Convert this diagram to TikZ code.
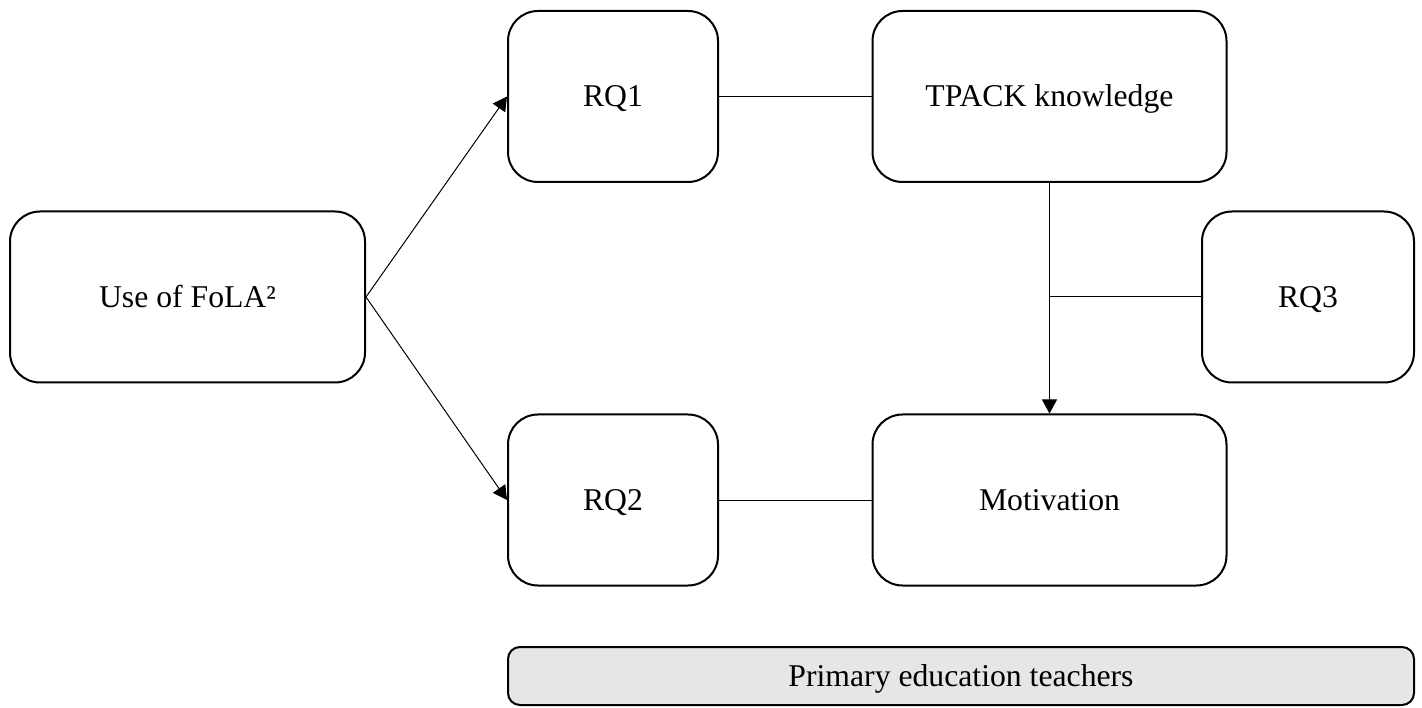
\documentclass[tikz,border=0pt]{standalone}
\usepackage{fontspec}
\setmainfont{Liberation Serif}
\usetikzlibrary{arrows.meta}
\definecolor{boxgray}{HTML}{E6E6E6}
\tikzset{
  rbox/.style={draw=black, line width=2pt, rounded corners=30pt, minimum width=#1, align=center, font=\fontsize{31.7}{37}\selectfont, inner sep=0pt, text height=21pt, text depth=0pt},
  conn/.style={line width=1pt},
  arr/.style={line width=1pt, -{Triangle[length=14pt,width=15pt]}}
}
\begin{document}
\begin{tikzpicture}[x=1pt,y=-1pt]
\useasboundingbox (0,0) rectangle (1422,708);
\node[rbox=355pt, minimum height=171pt] (use) at (187.5,297) {Use of FoLA²};
\node[rbox=210pt, minimum height=171pt] (rq1) at (613,96.5) {RQ1};
\node[rbox=354pt, minimum height=171pt] (tpack) at (1049.5,96.5) {TPACK knowledge};
\node[rbox=212pt, minimum height=171pt] (rq3) at (1308,297) {RQ3};
\node[rbox=210pt, minimum height=171pt] (rq2) at (613,500) {RQ2};
\node[rbox=354pt, minimum height=171pt] (mot) at (1049.5,500) {Motivation};
\node[rbox=906pt, minimum height=58pt, rounded corners=12pt, fill=boxgray] (pet) at (961,676) {Primary education teachers};
\draw[arr] (use.east) -- (rq1.west);
\draw[arr] (use.east) -- (rq2.west);
\draw[conn] (rq1.east) -- (tpack.west);
\draw[conn] (rq2.east) -- (mot.west);
\draw[arr] (tpack.south) -- (mot.north);
\coordinate (mid) at (tpack.south |- rq3.west);
\draw[conn] (mid) -- (rq3.west);
\end{tikzpicture}
\end{document}
